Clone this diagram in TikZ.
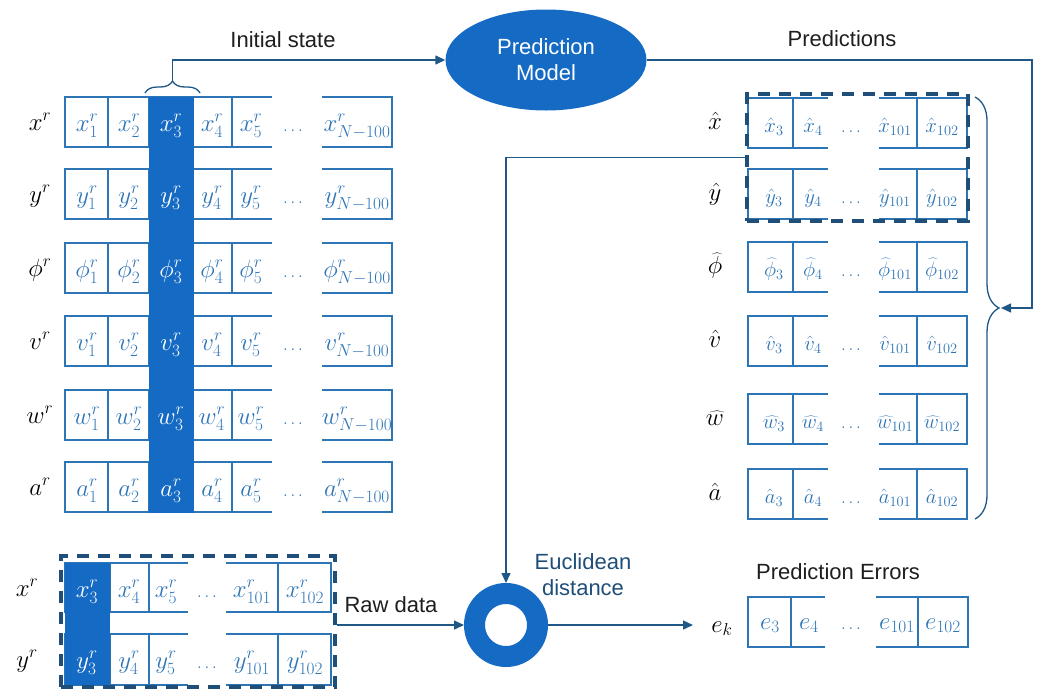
\documentclass[tikz,border=0pt]{standalone}
\usepackage{fontspec}
\setmainfont{Liberation Sans}
\usetikzlibrary{arrows.meta,decorations.pathreplacing,shapes.geometric}

\definecolor{cellblue}{RGB}{46,117,182}
\definecolor{fillblue}{RGB}{21,106,196}
\definecolor{darkline}{RGB}{31,78,121}
\definecolor{connblue}{RGB}{31,88,135}
\definecolor{txtgray}{RGB}{30,30,30}

% a row of cells whose top and bottom edges break between #5 and #6
\newcommand{\openrow}[6]{%
  \draw[cellline] (#5,#1) -- (#3,#1) -- (#3,#2) -- (#5,#2);
  \draw[cellline] (#6,#1) -- (#4,#1) -- (#4,#2) -- (#6,#2);
}

\begin{document}
\begin{tikzpicture}[x=1pt,y=-1pt,
  cellline/.style={draw=cellblue, line width=1.4pt},
  dashbox/.style={draw=darkline, line width=3.6pt, dash pattern=on 12pt off 9pt, inner sep=0pt},
  conn/.style={draw=connblue, line width=1.4pt},
  arr/.style={conn, -{Triangle[length=10pt,width=9pt]}},
  bracestyle/.style={draw=connblue, line width=1.3pt, decorate},
  cell/.style={text=cellblue, anchor=base, inner sep=0pt, font=\fontsize{23}{25}\selectfont},
  hatcell/.style={cell, font=\fontsize{22}{24}\selectfont},
  hotcell/.style={cell, text=white},
  dotcell/.style={text=cellblue, anchor=base, inner sep=0pt, font=\fontsize{18}{18}\selectfont},
  lbl/.style={text=black, anchor=base, inner sep=0pt, font=\fontsize{27}{28}\selectfont},
  captxt/.style={text=txtgray, inner sep=0pt, font=\fontsize{22}{26}\selectfont, align=center}]
\useasboundingbox (0,0) rectangle (1040,691);

% ---------- raw state matrix (left) ----------
\foreach \t in {97,169,243,316,390,462}{
  \openrow{\t}{\t+50}{65}{392}{272}{322}
  \foreach \d in {108,149,193,232} \draw[cellline] (\d,\t) -- (\d,\t+50);
}
\fill[fillblue] (149,97) rectangle (193.5,513);
\foreach \t/\v [count=\i] in {97/x,169/y,243/\phi,316/v,390/w,462/a}{
  \node[lbl] (L\i) at (40,\t+33) {$\v^r$};
  \node[cell] (L\i-1) at (87,\t+34) {$\v^r_1$};
  \node[cell] (L\i-2) at (129,\t+34) {$\v^r_2$};
  \node[hotcell] (L\i-3) at (171,\t+34) {$\v^r_3$};
  \node[cell] (L\i-4) at (212,\t+34) {$\v^r_4$};
  \node[cell] (L\i-5) at (251,\t+34) {$\v^r_5$};
  \node[dotcell] (L\i-d) at (293,\t+34) {$\ldots$};
  \node[cell] (L\i-N) at (357,\t+34) {$\v^r_{N-100}$};
}

% brace over the initial state column
\draw[bracestyle, decoration={brace, amplitude=12pt}] (145,93) -- (200,93);
\coordinate (istate) at (172.5,80);
\node[captxt] (initlbl) at (283,40) {Initial state};

% ---------- prediction model ----------
\node[ellipse, fill=fillblue, minimum width=201pt, minimum height=101pt, inner sep=0pt,
      text=white, font=\fontsize{22}{26}\selectfont, align=center] (model) at (546,60) {Prediction\\Model};
\node[captxt] (predlbl) at (842,39) {Predictions};

% ---------- predicted matrix (right) ----------
\foreach \t in {98,169,242,316,394,469}{
  \openrow{\t}{\t+50}{748}{967}{828}{879}
  \foreach \d in {793,917} \draw[cellline] (\d,\t) -- (\d,\t+50);
}
\foreach \t/\v [count=\i] in {98/\hat{x},169/\hat{y},242/\widehat{\phi},316/\hat{v},394/\widehat{w},469/\hat{a}}{
  \node[lbl, font=\fontsize{24}{24}\selectfont] (P\i) at (715,\t+31) {$\v$};
  \node[hatcell] (P\i-3) at (774,\t+34) {$\v_3$};
  \node[hatcell] (P\i-4) at (813,\t+34) {$\v_4$};
  \node[dotcell] (P\i-d) at (851,\t+34) {$\ldots$};
  \node[hatcell] (P\i-a) at (895,\t+34) {$\v_{101}$};
  \node[hatcell] (P\i-b) at (942,\t+34) {$\v_{102}$};
}
\node[dashbox, minimum width=221pt, minimum height=127pt] (predbox) at (857.5,157.5) {};

% brace gathering all predictions
\draw[bracestyle, decoration={brace, amplitude=24pt}] (975,97) -- (975,519);
\coordinate (rcorner) at (1032,308);
\coordinate (rbtip) at (1001,308);

% ---------- raw data window (bottom left) ----------
\openrow{563}{612}{65}{331}{188}{226}
\openrow{634}{685}{65}{331}{188}{226}
\foreach \d in {110,149,278}{
  \draw[cellline] (\d,563) -- (\d,612);
  \draw[cellline] (\d,634) -- (\d,685);
}
\fill[fillblue] (65,563) rectangle (110,685);
\foreach \t/\v [count=\i] in {563/x,634/y}{
  \node[lbl] (R\i) at (27,\t+33) {$\v^r$};
  \node[hotcell] (R\i-3) at (87,\t+34) {$\v^r_3$};
  \node[cell] (R\i-4) at (129,\t+34) {$\v^r_4$};
  \node[cell] (R\i-5) at (166,\t+34) {$\v^r_5$};
  \node[dotcell] (R\i-d) at (207,\t+34) {$\ldots$};
  \node[cell] (R\i-a) at (252,\t+34) {$\v^r_{101}$};
  \node[cell] (R\i-b) at (305,\t+34) {$\v^r_{102}$};
}
\node[dashbox, minimum width=274pt, minimum height=131pt] (rawbox) at (198,621.5) {};
\node[captxt] (rawlbl) at (391,605) {Raw data};

% ---------- distance ----------
\node[circle, draw=fillblue, line width=21pt, minimum size=63pt, inner sep=0pt] (dist) at (506,625) {};
\node[captxt, text=darkline] (euclbl) at (583,575) {Euclidean\\distance};

% ---------- prediction errors ----------
\node[captxt] (errlbl) at (838,572) {Prediction Errors};
\openrow{597}{647}{748}{968}{825}{876}
\foreach \d in {791,918} \draw[cellline] (\d,597) -- (\d,647);
\node[lbl, font=\fontsize{25}{25}\selectfont] (ek) at (722,632) {$e_k$};
\node[cell] (E3) at (770,629) {$e_3$};
\node[cell] (E4) at (809,629) {$e_4$};
\node[dotcell] (Ed) at (851,629) {$\ldots$};
\node[cell] (Ea) at (897,629) {$e_{101}$};
\node[cell] (Eb) at (943,629) {$e_{102}$};
\coordinate (errin) at (693,625);

% ---------- connectors ----------
\draw[arr] (istate) |- (model.west);
\draw[arr] (model.east) -| (rcorner) -- (rbtip);
\draw[arr] (predbox.west) -| (dist.north);
\draw[arr] (rawbox.east |- dist.west) -- (dist.west);
\draw[arr] (dist.east) -- (errin);
\end{tikzpicture}
\end{document}
